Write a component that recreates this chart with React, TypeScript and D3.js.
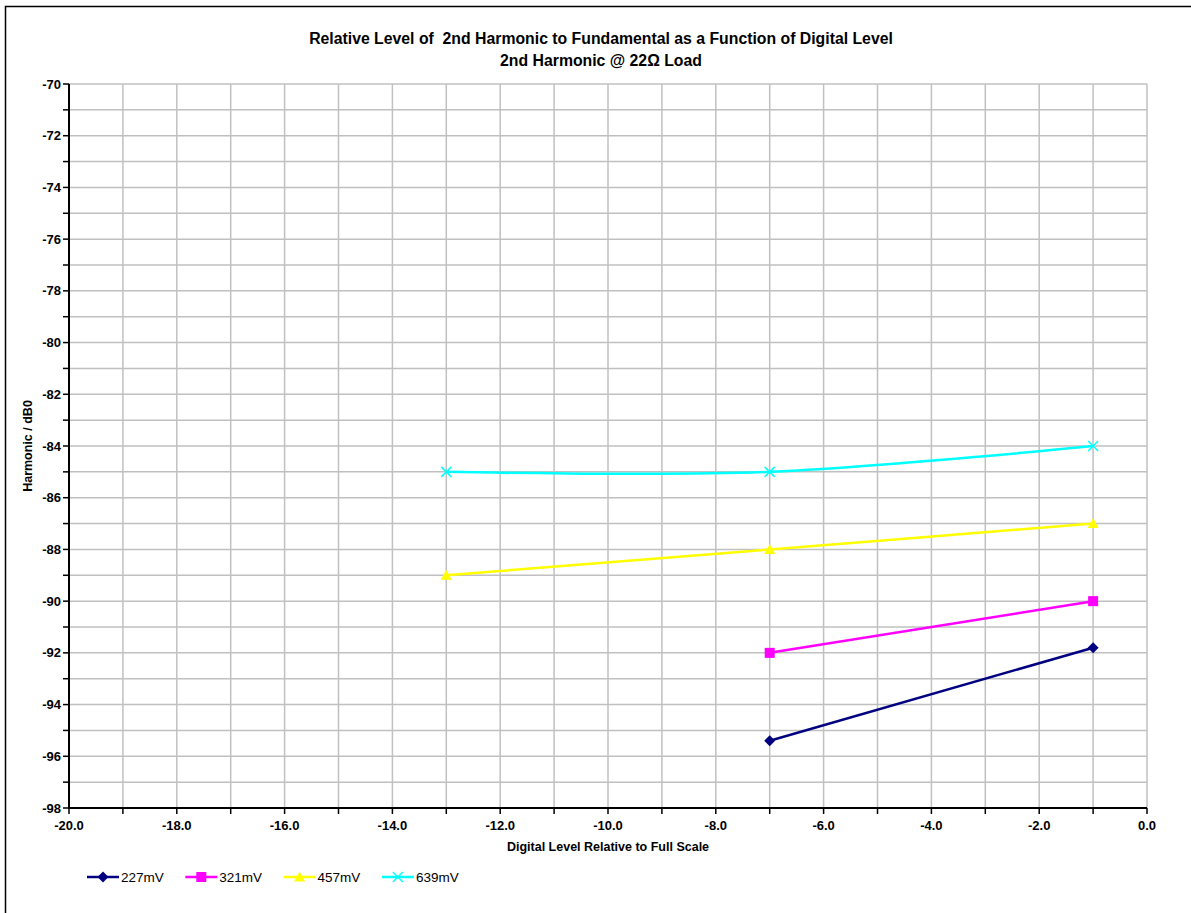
import React from "react";
import * as d3 from "d3";

const xValues = [-13, -7, -1];
const s227 = [null, -95.4, -91.8];
const s321 = [null, -92, -90];
const s457 = [-89, -88, -87];
const s639 = [-85, -85, -84];
const seriesNames = ["227mV", "321mV", "457mV", "639mV"];
const seriesColors = ["#000080", "#FF00FF", "#FFFF00", "#00FFFF"];
const seriesMarkers = ["diamond", "square", "triangle", "x"];
const xTicks = d3.range(-20, 0.001, 2);
const yTicks = d3.range(-98, -69.999, 2);

const W = 1191;
const H = 913;
const M = { left: 69, right: 1147, top: 84, bottom: 808 };
const FONT = "'Liberation Sans', Arial, Helvetica, sans-serif";

function Marker({ type, x, y, color }: { type: string; x: number; y: number; color: string }) {
  if (type === "diamond") {
    const r = 5.5;
    return <path d={`M${x},${y - r}L${x + r},${y}L${x},${y + r}L${x - r},${y}Z`} fill={color} />;
  }
  if (type === "square") {
    const r = 5;
    return <rect x={x - r} y={y - r} width={2 * r} height={2 * r} fill={color} />;
  }
  if (type === "triangle") {
    const r = 5.5;
    return <path d={`M${x},${y - r}L${x + r},${y + r - 1}L${x - r},${y + r - 1}Z`} fill={color} />;
  }
  const r = 5;
  return (
    <path
      d={`M${x - r},${y - r}L${x + r},${y + r}M${x - r},${y + r}L${x + r},${y - r}`}
      stroke={color}
      strokeWidth={1.5}
      fill="none"
    />
  );
}

export default function App() {
  const x = d3.scaleLinear().domain([-20, 0]).range([M.left, M.right]);
  const y = d3.scaleLinear().domain([-98, -70]).range([M.bottom, M.top]);
  const series = [s227, s321, s457, s639];
  const line = d3
    .line<[number, number]>()
    .x((d) => x(d[0]))
    .y((d) => y(d[1]))
    .curve(d3.curveCardinal.tension(0));

  const gridX = d3.range(-20, 0.001, 1);
  const gridY = d3.range(-98, -69.999, 1);

  return (
    <svg
      width={W}
      height={H}
      style={{ position: "absolute", left: 0, top: 0, background: "#fff" }}
      fontFamily={FONT}
    >
      <rect x={5.5} y={6.5} width={1200} height={920} fill="#fff" stroke="#000" strokeWidth={1.5} />
      {/* grid */}
      {gridX.map((v) => (
        <line key={"gx" + v} x1={x(v)} x2={x(v)} y1={M.top} y2={M.bottom} stroke="#c0c0c0" strokeWidth={1.5} />
      ))}
      {gridY.map((v) => (
        <line key={"gy" + v} x1={M.left} x2={M.right} y1={y(v)} y2={y(v)} stroke="#c0c0c0" strokeWidth={1.5} />
      ))}
      {/* axes */}
      <line x1={M.left} x2={M.left} y1={M.top} y2={M.bottom + 1} stroke="#000" strokeWidth={2} />
      <line x1={M.left - 1} x2={M.right} y1={M.bottom} y2={M.bottom} stroke="#000" strokeWidth={2} />
      {gridY.map((v) => (
        <line key={"ty" + v} x1={M.left - 6} x2={M.left} y1={y(v)} y2={y(v)} stroke="#000" strokeWidth={1.5} />
      ))}
      {gridX.map((v) => (
        <line key={"tx" + v} x1={x(v)} x2={x(v)} y1={M.bottom} y2={M.bottom + 6} stroke="#000" strokeWidth={1.5} />
      ))}
      {yTicks.map((v) => (
        <text key={"yl" + v} x={M.left - 8} y={y(v)} dy="0.35em" textAnchor="end" fontSize={13} fontWeight="bold">
          {String(v)}
        </text>
      ))}
      {xTicks.map((v) => (
        <text key={"xl" + v} x={x(v)} y={830} textAnchor="middle" fontSize={13} fontWeight="bold">
          {v.toFixed(1)}
        </text>
      ))}
      {/* titles */}
      <text x={601} y={44} textAnchor="middle" fontSize={15.8} fontWeight="bold" style={{ whiteSpace: "pre" }}>
        {"Relative Level of  2nd Harmonic to Fundamental as a Function of Digital Level"}
      </text>
      <text x={601} y={66} textAnchor="middle" fontSize={15.8} fontWeight="bold">
        2nd Harmonic @ 22Ω Load
      </text>
      <text x={608} y={851} textAnchor="middle" fontSize={12.5} fontWeight="bold">
        Digital Level Relative to Full Scale
      </text>
      <text
        transform={`translate(32,${(M.top + M.bottom) / 2}) rotate(-90)`}
        textAnchor="middle"
        fontSize={12.5}
        fontWeight="bold"
      >
        Harmonic / dB0
      </text>
      {/* series */}
      {series.map((s, i) => {
        const pts = xValues
          .map((xv, j) => [xv, s[j]] as [number, number | null])
          .filter((p) => p[1] !== null) as [number, number][];
        return (
          <g key={"s" + i}>
            <path d={line(pts) || ""} fill="none" stroke={seriesColors[i]} strokeWidth={2.5} />
            {pts.map((p, j) => (
              <Marker key={j} type={seriesMarkers[i]} x={x(p[0])} y={y(p[1])} color={seriesColors[i]} />
            ))}
          </g>
        );
      })}
      {/* legend */}
      {seriesNames.map((n, i) => {
        const lx = 87 + i * 98.3;
        const ly = 877;
        return (
          <g key={"lg" + i}>
            <line x1={lx} x2={lx + 32} y1={ly} y2={ly} stroke={seriesColors[i]} strokeWidth={2.5} />
            <Marker type={seriesMarkers[i]} x={lx + 16} y={ly} color={seriesColors[i]} />
            <text x={lx + 34} y={ly} dy="0.35em" fontSize={13.5}>
              {n}
            </text>
          </g>
        );
      })}
    </svg>
  );
}
